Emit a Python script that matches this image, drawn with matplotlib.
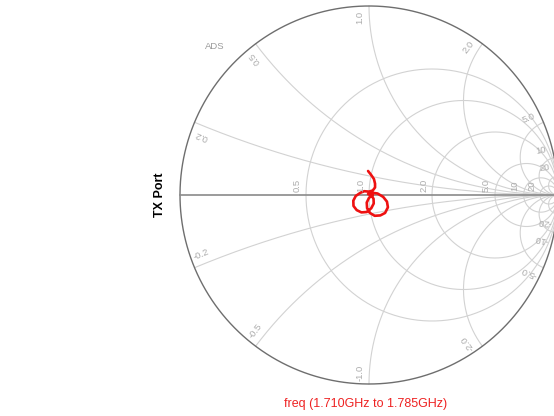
import numpy as np
import matplotlib
matplotlib.use("Agg")
import matplotlib.pyplot as plt

plt.rcParams['font.family'] = ['Liberation Sans', 'DejaVu Sans']

# grid values of the chart
r_circles = [0.5, 1.0, 2.0, 5.0, 10.0, 20.0]
x_arcs = [0.2, 0.5, 1.0, 2.0, 5.0, 10.0, 20.0]
r_labels = ['0.5', '1.0', '2.0', '5.0', '10', '20']
x_labels = ['0.2', '0.5', '1.0', '2.0', '5.0', '10', '20']

# reflection coefficient trace
s_re = [-0.005, 0.010, 0.026, 0.032, 0.032, 0.020, 0.000, -0.025, -0.045, -0.070,
        -0.083, -0.082, -0.065, -0.040, -0.012, 0.012, 0.025, 0.024, 0.012, -0.005,
        0.015, 0.045, 0.075, 0.095, 0.100, 0.085, 0.060, 0.030, 0.005, -0.010,
        -0.012, 0.000, 0.020]
s_im = [0.127, 0.108, 0.085, 0.060, 0.040, 0.024, 0.018, 0.020, 0.012, -0.005,
        -0.030, -0.058, -0.080, -0.092, -0.090, -0.070, -0.045, -0.020, 0.000, 0.005,
        0.012, 0.008, -0.010, -0.035, -0.065, -0.095, -0.108, -0.110, -0.095, -0.070,
        -0.040, -0.015, 0.000]

title = 'freq (1.710GHz to 1.785GHz)'
port = 'TX Port'

W, H, R, cx, cy = 554, 416, 189.0, 369.0, 195.0
fig = plt.figure(figsize=(W / 100, H / 100), dpi=100)
ax = fig.add_axes([0, 0, 1, 1])
ax.set_xlim(-cx / R, (W - cx) / R)
ax.set_ylim((cy - H) / R, cy / R)
ax.axis('off')

grid_c = '#d2d2d2'
lab_c = '#acacac'

# resistance circles
t = np.linspace(0, 2 * np.pi, 400)
for r in r_circles:
    c, rad = r / (1 + r), 1 / (1 + r)
    ax.plot(c + rad * np.cos(t), rad * np.sin(t), color=grid_c, lw=0.8)

# reactance arcs
rr = np.concatenate([np.linspace(0, 1, 200), np.logspace(0, 4, 400)])
for x in x_arcs:
    for s in (1, -1):
        g = (rr + 1j * s * x - 1) / (rr + 1j * s * x + 1)
        ax.plot(g.real, g.imag, color=grid_c, lw=0.8)

# outer circle and real axis
ax.plot(np.cos(t), np.sin(t), color='#6e6e6e', lw=1.0)
ax.plot([-1, 1], [0, 0], color='#8a8a8a', lw=1.2)

# real-axis labels
for r, lab in zip(r_circles, r_labels):
    g = (r - 1) / (r + 1)
    ax.text(g - 0.045, 0.05, lab, rotation=90, ha='center', va='center',
            fontsize=6.8, color=lab_c)

# rim labels
for x, lab in zip(x_arcs, x_labels):
    for s in (1, -1):
        g = (1j * s * x - 1) / (1j * s * x + 1)
        ang = np.degrees(np.angle(g))
        a2 = np.radians(ang + 3.0 * s)
        rot = ang if s > 0 else ang + 180
        txt = lab if s > 0 else '-' + lab
        ax.text(0.94 * np.cos(a2), 0.94 * np.sin(a2), txt, rotation=rot,
                rotation_mode='anchor', ha='center', va='center',
                fontsize=6.8, color=lab_c)

ax.text((215 - cx) / R, (cy - 47) / R, 'ADS', fontsize=6.8, color='#9a9a9a',
        ha='center', va='center')

# trace
ax.plot(s_re, s_im, color='#ee1111', lw=1.9, solid_capstyle='round')

ax.text((160 - cx) / R, 0, port, rotation=90, ha='center', va='center',
        fontsize=9, fontweight='bold', color='black')
ax.text((366 - cx) / R, (cy - 404) / R, title, ha='center', va='center',
        fontsize=9, color='#ee2222')

fig.savefig('out.png', dpi=100)
